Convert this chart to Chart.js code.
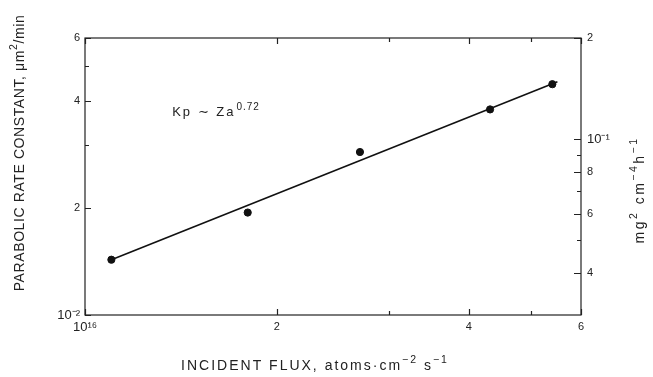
<!DOCTYPE html>
<html>
<head>
<meta charset="utf-8">
<script src="https://cdn.jsdelivr.net/npm/chart.js@4.4.1/dist/chart.umd.min.js"></script>
<style>
  html, body { margin: 0; padding: 0; background: #fff; }
  #wrap { width: 653px; height: 377px; }
</style>
</head>
<body>
<div id="wrap"><canvas id="chart" width="653" height="377"></canvas></div>
<script>
// incident flux, in units of 10^16 atoms cm-2 s-1
const flux = [1.10, 1.80, 2.70, 4.32, 5.41];
// parabolic rate constant, in units of 10^-2 um^2/min
const rate = [1.43, 1.94, 2.87, 3.78, 4.45];
// fitted line, Kp ~ Za^0.72
const fitFlux = [1.10, 5.51];
const fitRate = [1.43, 4.52];

// tick values and labels
const xTicks = [1, 2, 3, 4, 5, 6];
const xTickLabels = { 1: '10¹⁶', 2: '2', 4: '4', 6: '6' };
const yTicks = [1, 2, 3, 4, 5, 6];
const yTickLabels = { 1: '10⁻²', 2: '2', 4: '4', 6: '6' };
const y2Ticks = [0.04, 0.05, 0.06, 0.07, 0.08, 0.09, 0.1, 0.2];
const y2TickLabels = { 0.04: '4', 0.06: '6', 0.08: '8', 0.1: '10⁻¹', 0.2: '2' };

// where the fit annotation sits, in data units
const noteAt = { x: 1.37, y: 3.7 };

const INK = '#222';
const FONT = '"Liberation Sans", Arial, sans-serif';

function toPoints(xs, ys) {
  return xs.map((x, i) => ({ x: x, y: ys[i] }));
}

// draws text made of [string, isSuperscript] pieces
function drawRich(ctx, parts, size, align, supSize) {
  const sup = supSize || size * 0.75;
  let total = 0;
  parts.forEach(p => {
    ctx.font = (p[1] ? sup : size) + 'px ' + FONT;
    total += ctx.measureText(p[0]).width;
  });
  let x = align === 'center' ? -total / 2 : 0;
  parts.forEach(p => {
    ctx.font = (p[1] ? sup : size) + 'px ' + FONT;
    ctx.fillText(p[0], x, p[1] ? -size * 0.4 : 0);
    x += ctx.measureText(p[0]).width;
  });
}

const framePlugin = {
  id: 'frame',
  afterDraw(chart) {
    const { ctx, chartArea: a, scales } = chart;
    ctx.save();
    ctx.strokeStyle = INK;
    ctx.lineWidth = 1.2;
    ctx.strokeRect(a.left, a.top, a.right - a.left, a.bottom - a.top);

    ctx.beginPath();
    // inward ticks, bottom and top
    xTicks.forEach(v => {
      const px = Math.round(scales.x.getPixelForValue(v)) + 0.5;
      const len = xTickLabels[v] ? 6 : 4;
      ctx.moveTo(px, a.bottom); ctx.lineTo(px, a.bottom - len);
      ctx.moveTo(px, a.top); ctx.lineTo(px, a.top + len);
    });
    // left
    yTicks.forEach(v => {
      const py = Math.round(scales.y.getPixelForValue(v)) + 0.5;
      const len = yTickLabels[v] ? 6 : 4;
      ctx.moveTo(a.left, py); ctx.lineTo(a.left + len, py);
    });
    // right
    y2Ticks.forEach(v => {
      const py = Math.round(scales.y2.getPixelForValue(v)) + 0.5;
      const len = y2TickLabels[v] ? 7 : 4;
      ctx.moveTo(a.right, py); ctx.lineTo(a.right - len, py);
    });
    ctx.stroke();

    ctx.fillStyle = INK;
    ctx.textBaseline = 'middle';
    ctx.textAlign = 'left';

    // left axis title
    ctx.save();
    ctx.letterSpacing = '0.6px';
    ctx.translate(20, 153);
    ctx.rotate(-Math.PI / 2);
    drawRich(ctx, [['PARABOLIC RATE CONSTANT, μm', 0], ['2', 1], ['/min', 0]], 14, 'center');
    ctx.restore();

    // right axis title
    ctx.save();
    ctx.letterSpacing = '2.5px';
    ctx.translate(640, 190);
    ctx.rotate(-Math.PI / 2);
    drawRich(ctx, [['mg', 0], ['2', 1], [' cm', 0], ['−4', 1], ['h', 0], ['−1', 1]], 14, 'center');
    ctx.restore();

    // bottom axis title
    ctx.save();
    ctx.letterSpacing = '2px';
    ctx.translate(315, 366);
    drawRich(ctx, [['INCIDENT FLUX, atoms·cm', 0], ['−2', 1], [' s', 0], ['−1', 1]], 14, 'center');
    ctx.restore();

    // fit annotation
    ctx.save();
    ctx.translate(scales.x.getPixelForValue(noteAt.x), scales.y.getPixelForValue(noteAt.y));
    ctx.letterSpacing = '2px';
    ctx.font = '13px ' + FONT;
    ctx.fillText('Kp ∼ Za', 0, 0);
    const w = ctx.measureText('Kp ∼ Za').width;
    ctx.letterSpacing = '1px';
    ctx.font = '10px ' + FONT;
    ctx.fillText('0.72', w + 1, -5);
    ctx.restore();

    ctx.restore();
  }
};

function tickOpts(labels, pad) {
  return {
    padding: pad,
    color: INK,
    font: c => ({ family: FONT, size: (c.tick && String(labels[c.tick.value] || '').indexOf('10') === 0) ? 13 : 11 }),
    autoSkip: false,
    maxRotation: 0,
    callback: function(value) { return labels[value] || ''; }
  };
}

new Chart(document.getElementById('chart'), {
  type: 'scatter',
  data: {
    datasets: [
      {
        label: 'measured',
        data: toPoints(flux, rate),
        backgroundColor: '#111',
        borderColor: '#111',
        pointRadius: 3.6,
        showLine: false
      },
      {
        label: 'fit',
        data: toPoints(fitFlux, fitRate),
        borderColor: '#111',
        borderWidth: 1.6,
        pointRadius: 0,
        showLine: true,
        fill: false
      }
    ]
  },
  options: {
    responsive: false,
    animation: false,
    devicePixelRatio: 1,
    layout: { padding: { top: 38, left: 0, right: 0, bottom: 0 } },
    plugins: {
      legend: { display: false },
      tooltip: { enabled: false }
    },
    scales: {
      x: {
        type: 'logarithmic',
        position: 'bottom',
        min: 1, max: 6,
        grid: { display: false, drawTicks: false },
        border: { display: false },
        afterBuildTicks: s => { s.ticks = xTicks.map(v => ({ value: v })); },
        afterFit: s => { s.height = 62; },
        ticks: tickOpts(xTickLabels, 5)
      },
      y: {
        type: 'logarithmic',
        position: 'left',
        min: 1, max: 6,
        grid: { display: false, drawTicks: false },
        border: { display: false },
        afterBuildTicks: s => { s.ticks = yTicks.map(v => ({ value: v })); },
        afterFit: s => { s.width = 85; },
        ticks: tickOpts(yTickLabels, 5)
      },
      y2: {
        type: 'logarithmic',
        position: 'right',
        min: 0.03, max: 0.2,
        grid: { display: false, drawTicks: false },
        border: { display: false },
        afterBuildTicks: s => { s.ticks = y2Ticks.map(v => ({ value: v })); },
        afterFit: s => { s.width = 72; },
        ticks: tickOpts(y2TickLabels, 6)
      }
    }
  },
  plugins: [framePlugin]
});
</script>
</body>
</html>
